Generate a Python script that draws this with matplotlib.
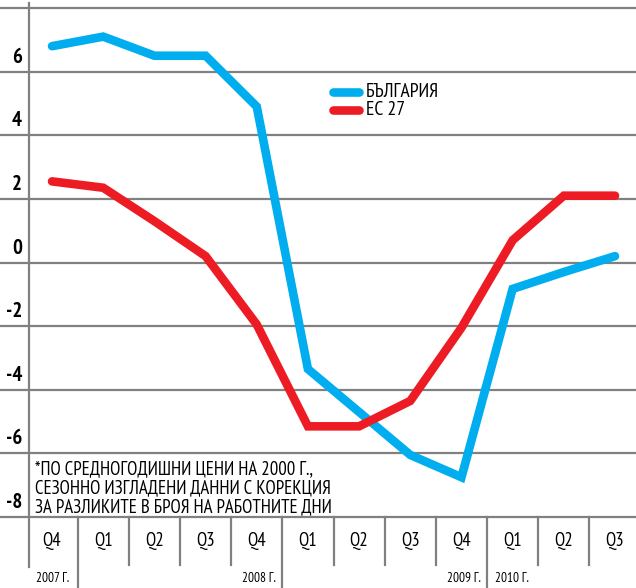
import matplotlib
matplotlib.use("Agg")
import matplotlib.pyplot as plt
import matplotlib.transforms as mtransforms

plt.rcParams["font.family"] = ["PT Sans Narrow", "Fira Sans Condensed", "DejaVu Sans"]

# ---------------------------------------------------------------
# Data: real GDP growth, %, y/y (read off the reference)
# ---------------------------------------------------------------
quarters = ["Q4", "Q1", "Q2", "Q3", "Q4", "Q1", "Q2", "Q3", "Q4", "Q1", "Q2", "Q3"]
bulgaria = [6.8, 7.1, 6.5, 6.5, 4.9, -3.35, -4.7, -6.05, -6.75, -0.83, -0.3, 0.2]
eu27 = [2.55, 2.35, 1.3, 0.2, -1.95, -5.15, -5.15, -4.35, -2.05, 0.7, 2.1, 2.1]
years = ["2007 Г.", "2008 Г.", "2009 Г.", "2010 Г."]
yticks = [8, 6, 4, 2, 0, -2, -4, -6, -8]
footnote = ("*ПО СРЕДНОГОДИШНИ ЦЕНИ НА 2000 Г.,\n"
            "СЕЗОННО ИЗГЛАДЕНИ ДАННИ С КОРЕКЦИЯ\n"
            "ЗА РАЗЛИКИТЕ В БРОЯ НА РАБОТНИТЕ ДНИ")

BLUE = "#00AEEF"
RED = "#ED1C24"
GRID = "#808080"

W, H = 636, 588
fig = plt.figure(figsize=(W / 100, H / 100), dpi=100)
# plot area in pixels: left 29, right 636, top 8, bottom 517
ax = fig.add_axes([29 / W, 1 - 517 / H, 1 - 29 / W, (517 - 8) / H])
ax.set_axis_off()

x = list(range(len(quarters)))
ax.set_xlim(-0.45, 11.41)
ax.set_ylim(-8, 8)

# horizontal grid, running under the tick labels to the left edge
for v in yticks:
    ax.axhline(v, xmin=-29 / 607, xmax=1, color=GRID, lw=1.6, clip_on=False, zorder=1)
    ax.annotate(str(v), xy=(0, v), xycoords=("axes fraction", "data"),
                xytext=(-7, 5), textcoords="offset pixels",
                ha="right", va="bottom", fontsize=15, fontweight="bold",
                color="black", annotation_clip=False)

# left axis line
ax.plot([0, 0], [1 + 5 / 509, -50 / 509], transform=ax.transAxes,
        color=GRID, lw=1.6, clip_on=False)

# category band below the plot
band = mtransforms.blended_transform_factory(ax.transData, ax.transAxes)
year_breaks = [0.5, 4.5, 8.5]
for i in range(len(quarters) - 1):
    b = i + 0.5
    low = -71 / 509 if b in year_breaks else -48 / 509
    ax.plot([b, b], [0, low], transform=band, color=GRID, lw=1.6, clip_on=False)
for i, q in enumerate(quarters):
    ax.text(i, -24 / 509, q, transform=band, ha="center", va="center",
            fontsize=13.5, clip_on=False)

# year labels
ax.text(-0.31, -61 / 509, years[0], transform=band, ha="left", va="center", fontsize=9.5)
ax.text(4.37, -61 / 509, years[1], transform=band, ha="right", va="center", fontsize=9.5)
ax.text(8.37, -61 / 509, years[2], transform=band, ha="right", va="center", fontsize=9.5)
ax.text(8.66, -61 / 509, years[3], transform=band, ha="left", va="center", fontsize=9.5)

# series
ax.plot(x, bulgaria, color=BLUE, lw=6.2, solid_capstyle="round",
        solid_joinstyle="miter", zorder=3)
ax.plot(x, eu27, color=RED, lw=6.2, solid_capstyle="round",
        solid_joinstyle="miter", zorder=3)

# legend drawn by hand to keep the newspaper look
leg = fig.transFigure
for yy, col, lab in [(1 - 92 / H, BLUE, "БЪЛГАРИЯ"), (1 - 110 / H, RED, "ЕС 27")]:
    fig.add_artist(plt.Line2D([333 / W, 359 / W], [yy, yy], transform=leg,
                              color=col, lw=6.2, solid_capstyle="round"))
    fig.text(366 / W, yy, lab, ha="left", va="center", fontsize=14)

# footnote
fig.text(35 / W, 1 - 488 / H, footnote, ha="left", va="center",
         fontsize=13.5, linespacing=1.08)

fig.savefig("out.png", dpi=100, facecolor="white")
